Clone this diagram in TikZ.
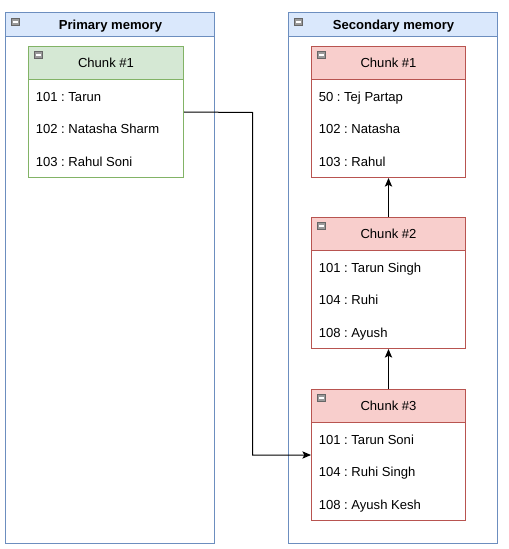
\documentclass[tikz,border=0pt]{standalone}
\usepackage{fontspec}
\setmainfont{Liberation Sans}
\usetikzlibrary{arrows.meta}
\frenchspacing
\definecolor{blueFill}{HTML}{DAE8FC}
\definecolor{blueLine}{HTML}{6C8EBF}
\definecolor{greenFill}{HTML}{D5E8D4}
\definecolor{greenLine}{HTML}{82B366}
\definecolor{redFill}{HTML}{F8CECC}
\definecolor{redLine}{HTML}{B85450}
\definecolor{iconGray}{HTML}{9A9A9A}
\begin{document}
\begin{tikzpicture}[x=0.75pt,y=-0.75pt,
  every node/.style={font=\fontsize{9.8}{11}\selectfont, inner sep=0pt},
  container/.style={draw=blueLine, line width=0.75pt, minimum width=156.75pt, minimum height=398.25pt},
  chunkG/.style={draw=greenLine, line width=0.75pt, minimum width=116.25pt, minimum height=98.25pt},
  chunkR/.style={draw=redLine, line width=0.75pt, minimum width=115.5pt, minimum height=98.25pt},
  rowtext/.style={anchor=base west, text=black},
  title/.style={anchor=base, text=black},
  conn/.style={draw=black, line width=0.75pt, -{Stealth[length=6.5pt,width=5.5pt,inset=1.5pt]}},
  icon/.style={fill=iconGray, draw=gray!80!black, line width=0.3pt}
]
\useasboundingbox (0,0) rectangle (508,549);
\begin{scope}[shift={(0.5,0.5)}]
% containers
\fill[blueFill] (5,12) rectangle (214,36);
\fill[blueFill] (288,12) rectangle (497,36);
\node[container] (prim) at (109.5,277.5) {};
\node[container] (sec) at (392.5,277.5) {};
\draw[blueLine, line width=0.75pt] (5,36) -- (214,36);
\draw[blueLine, line width=0.75pt] (288,36) -- (497,36);
\node[title, font=\fontsize{9.8}{11}\selectfont\bfseries] (primT) at (110,28.7) {Primary memory};
\node[title, font=\fontsize{9.8}{11}\selectfont\bfseries] (secT) at (393,28.7) {Secondary memory};
\path[icon] (11,18) rectangle (19,25); \draw[white, line width=0.9pt] (12.5,21.5) -- (17.5,21.5);
\path[icon] (294,18) rectangle (302,25); \draw[white, line width=0.9pt] (295.5,21.5) -- (300.5,21.5);

% primary chunk
\fill[greenFill] (28,46) rectangle (183,79);
\node[chunkG] (p1) at (105.5,111.5) {};
\draw[greenLine, line width=0.75pt] (28,79) -- (183,79);
\path[icon] (34,51) rectangle (42,58); \draw[white, line width=0.9pt] (35.5,54.5) -- (40.5,54.5);
\node[title] (p1t) at (105.5,67.2) {Chunk \#1};
\node[rowtext] (p1a) at (35,100.7) {101 : Tarun};
\node[rowtext] (p1b) at (35,132.7) {102 : Natasha Sharm};
\node[rowtext] (p1c) at (35,165.7) {103 : Rahul Soni};

% secondary chunks
\foreach \nm/\top/\ttl/\ra/\rb/\rc in {s1/46/Chunk \#1/50 : Tej Partap/102 : Natasha/103 : Rahul,
                                     s2/217/Chunk \#2/101 : Tarun Singh/104 : Ruhi/108 : Ayush,
                                     s3/389/Chunk \#3/101 : Tarun Soni/104 : Ruhi Singh/108 : Ayush Kesh}{
  \fill[redFill] (311,\top) rectangle (465,\top+33);
  \node[chunkR] (\nm) at (388,\top+65.5) {};
  \draw[redLine, line width=0.75pt] (311,\top+33) -- (465,\top+33);
  \path[icon] (317,\top+5) rectangle (325,\top+12);
  \draw[white, line width=0.9pt] (318.5,\top+8.5) -- (323.5,\top+8.5);
  \node[title] (\nm t) at (388,\top+21.2) {\ttl};
  \node[rowtext] (\nm a) at (318,\top+54.7) {\ra};
  \node[rowtext] (\nm b) at (318,\top+86.7) {\rb};
  \node[rowtext] (\nm c) at (318,\top+119.7) {\rc};
}

% connectors
\coordinate (mid) at (252,112);
\draw[conn] (s3.north) -- (s2.south);
\draw[conn] (s2.north) -- (s1.south);
\draw[conn] (p1.east) -- (mid) |- (s3.west);
\end{scope}
\end{tikzpicture}
\end{document}
